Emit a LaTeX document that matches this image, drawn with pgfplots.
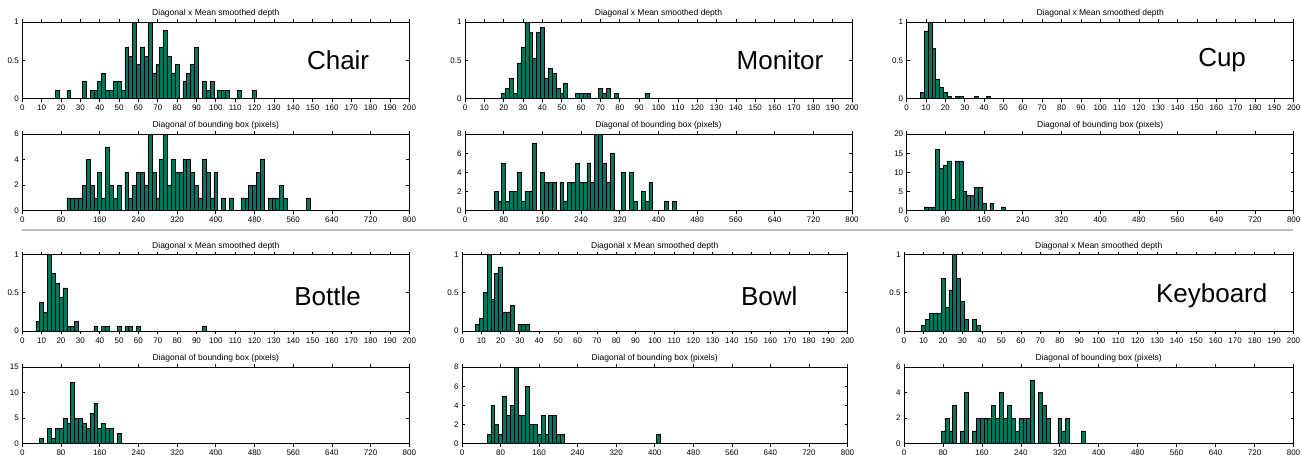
\documentclass[border=0pt]{standalone}
\usepackage{fontspec}
\setmainfont{Liberation Sans}
\usepackage{pgfplots}
\pgfplotsset{compat=1.18}

\definecolor{barfill}{RGB}{0,118,94}
\definecolor{sepgray}{RGB}{190,190,190}

\tikzset{cls/.style={font=\fontsize{26}{30}\selectfont, anchor=center}}

\pgfplotsset{
  hist/.style={
    scale only axis, width=387pt, height=76.5pt, anchor=south west,
    ybar, bar shift=0pt, ymin=0,
    axis line style={line width=0.9pt},
    every tick/.style={black, line width=0.7pt},
    major tick length=3pt,
    tick label style={font=\fontsize{8}{9}\selectfont},
    /pgf/number format/assume math mode=true,
    every axis title/.style={font=\fontsize{8.5}{10}\selectfont,
      at={(0.5,1)}, anchor=base, yshift=6.5pt},
    every axis plot post/.append style={fill=barfill, draw=black, line width=0.6pt},
  },
  depth/.style={hist, xmin=0, xmax=200, xtick={0,10,...,200},
    ymax=1, ytick={0,0.5,1}, bar width=2,
    title={Diagonal x Mean smoothed depth}},
  diag/.style={hist, xmin=0, xmax=800, xtick={0,80,...,800},
    bar width=8, title={Diagonal of bounding box (pixels)}},
}

\begin{document}
\begin{tikzpicture}
\useasboundingbox (0,0) rectangle (1302pt,-455pt);

% ---------------- Chair ----------------
\begin{axis}[depth, at={(22.3pt,-98.7pt)}]
\addplot coordinates {
  (18,0.111) (24,0.111) (32,0.222) (36,0.111) (38,0.111) (40,0.222) (42,0.333)
  (44,0.111) (46,0.111) (48,0.222) (50,0.222) (52,0.111) (54,0.667) (56,0.556)
  (58,1) (60,0.444) (62,0.667) (64,0.556) (66,1) (68,0.333) (70,0.444)
  (72,0.667) (74,0.889) (76,0.556) (78,0.333) (80,0.444) (84,0.222) (86,0.333)
  (88,0.444) (90,0.667) (94,0.222) (96,0.111) (98,0.222) (102,0.111) (104,0.111)
  (106,0.111) (112,0.111) (120,0.111)
};
\node[cls] at (rel axis cs:0.816,0.5) {Chair};
\end{axis}

\begin{axis}[diag, at={(22.3pt,-210.7pt)}, ymax=6, ytick={0,2,4,6}]
\addplot coordinates {
  (96,1) (104,1) (112,1) (120,1) (128,2) (136,4) (144,2) (152,1) (160,3)
  (168,1) (176,5) (184,2) (192,1) (200,2) (216,3) (224,1) (232,2) (240,3)
  (248,3) (256,2) (264,6) (272,3) (280,1) (288,4) (296,6) (304,2) (312,4)
  (320,3) (328,3) (336,4) (344,4) (352,3) (360,2) (368,1) (376,4) (384,3)
  (392,1) (400,3) (416,1) (432,1) (456,1) (464,1) (472,2) (480,2) (488,3)
  (496,4) (512,1) (520,1) (528,1) (536,2) (544,1) (592,1)
};
\end{axis}

% ---------------- Monitor ----------------
\begin{axis}[depth, at={(465pt,-98.7pt)}]
\addplot coordinates {
  (20,0.067) (22,0.133) (24,0.267) (26,0.067) (28,0.467) (30,0.667) (32,1)
  (34,0.867) (36,0.533) (38,0.867) (40,0.933) (42,0.267) (44,0.4) (46,0.333)
  (48,0.133) (50,0.067) (52,0.2) (58,0.067) (60,0.067) (62,0.067) (64,0.067)
  (70,0.133) (72,0.067) (74,0.133) (78,0.067) (94,0.067)
};
\node[cls] at (rel axis cs:0.814,0.5) {Monitor};
\end{axis}

\begin{axis}[diag, at={(465pt,-210.7pt)}, ymax=8, ytick={0,2,4,6,8}]
\addplot coordinates {
  (64,2) (72,1) (80,5) (88,1) (96,2) (104,2) (112,4) (120,1) (128,2) (136,2)
  (144,7) (160,4) (168,3) (176,3) (184,3) (200,3) (208,1) (216,3) (224,3)
  (232,5) (240,3) (248,3) (256,5) (264,3) (272,8) (280,8) (288,5) (296,3)
  (304,6) (328,4) (344,4) (352,1) (368,2) (376,1) (384,3) (416,1) (432,1)
};
\end{axis}

% ---------------- Cup ----------------
\begin{axis}[depth, at={(906.7pt,-98.7pt)}]
\addplot coordinates {
  (8,0.086) (10,0.886) (12,1) (14,0.657) (16,0.257) (18,0.143) (20,0.086)
  (22,0.029) (26,0.029) (28,0.029) (36,0.029) (42,0.029)
};
\node[cls] at (rel axis cs:0.815,0.5) {Cup};
\end{axis}

\begin{axis}[diag, at={(906.7pt,-210.7pt)}, ymax=20, ytick={0,5,10,15,20}]
\addplot coordinates {
  (40,1) (48,1) (56,1) (64,16) (72,11) (80,12) (88,13) (96,3) (104,13)
  (112,13) (120,5) (128,4) (136,4) (144,6) (152,6) (160,2) (176,2) (200,1)
};
\end{axis}

% separator
\draw[sepgray, line width=2.5pt] (22pt,-230pt) -- (1293pt,-230pt);

% ---------------- Bottle ----------------
\begin{axis}[depth, at={(22.3pt,-331pt)}]
\addplot coordinates {
  (8,0.125) (10,0.375) (12,0.25) (14,1) (16,0.75) (18,0.625) (20,0.4375)
  (22,0.5625) (24,0.0625) (26,0.0625) (28,0.125) (38,0.0625) (42,0.0625)
  (44,0.0625) (50,0.0625) (54,0.0625) (56,0.0625) (60,0.0625) (94,0.0625)
};
\node[cls] at (rel axis cs:0.789,0.46) {Bottle};
\end{axis}

\begin{axis}[diag, at={(22.3pt,-443.7pt)}, ymax=15, ytick={0,5,10,15}]
\addplot coordinates {
  (40,1) (56,3) (64,1) (72,3) (80,3) (88,5) (96,4) (104,12) (112,5) (120,5)
  (128,4) (136,3) (144,6) (152,8) (160,3) (168,4) (176,3) (184,3) (200,2)
};
\end{axis}

% ---------------- Bowl ----------------
\begin{axis}[depth, at={(462pt,-331pt)}, width=385.5pt]
\addplot coordinates {
  (8,0.083) (10,0.167) (12,0.5) (14,1) (16,0.417) (18,0.75) (20,0.833)
  (22,0.25) (24,0.25) (26,0.333) (30,0.083) (32,0.083) (34,0.083)
};
\node[cls] at (rel axis cs:0.797,0.46) {Bowl};
\end{axis}

\begin{axis}[diag, at={(462pt,-443.7pt)}, width=385.5pt, ymax=8, ytick={0,2,4,6,8}]
\addplot coordinates {
  (56,1) (64,4) (72,2) (80,1) (88,5) (96,3) (104,4) (112,8) (120,3) (128,3)
  (136,6) (144,2) (152,2) (160,1) (168,3) (176,1) (184,3) (192,3) (200,1)
  (208,1) (408,1)
};
\end{axis}

% ---------------- Keyboard ----------------
\begin{axis}[depth, at={(904pt,-331pt)}, width=389.5pt]
\addplot coordinates {
  (10,0.077) (12,0.154) (14,0.231) (16,0.231) (18,0.231) (20,0.692) (22,0.308)
  (24,0.538) (26,1) (28,0.692) (30,0.385) (32,0.154) (36,0.154) (38,0.077)
};
\node[cls] at (rel axis cs:0.79,0.46) {Keyboard};
\end{axis}

\begin{axis}[diag, at={(904pt,-443.7pt)}, width=389.5pt, ymax=6, ytick={0,2,4,6}]
\addplot coordinates {
  (80,1) (88,2) (96,1) (104,3) (120,1) (128,4) (144,1) (152,2) (160,2) (168,2)
  (176,2) (184,3) (192,2) (200,4) (208,2) (216,3) (224,2) (232,1) (240,2)
  (248,2) (256,2) (264,5) (280,4) (288,3) (296,2) (320,2) (328,1) (336,2)
  (368,1)
};
\end{axis}
\end{tikzpicture}
\end{document}
